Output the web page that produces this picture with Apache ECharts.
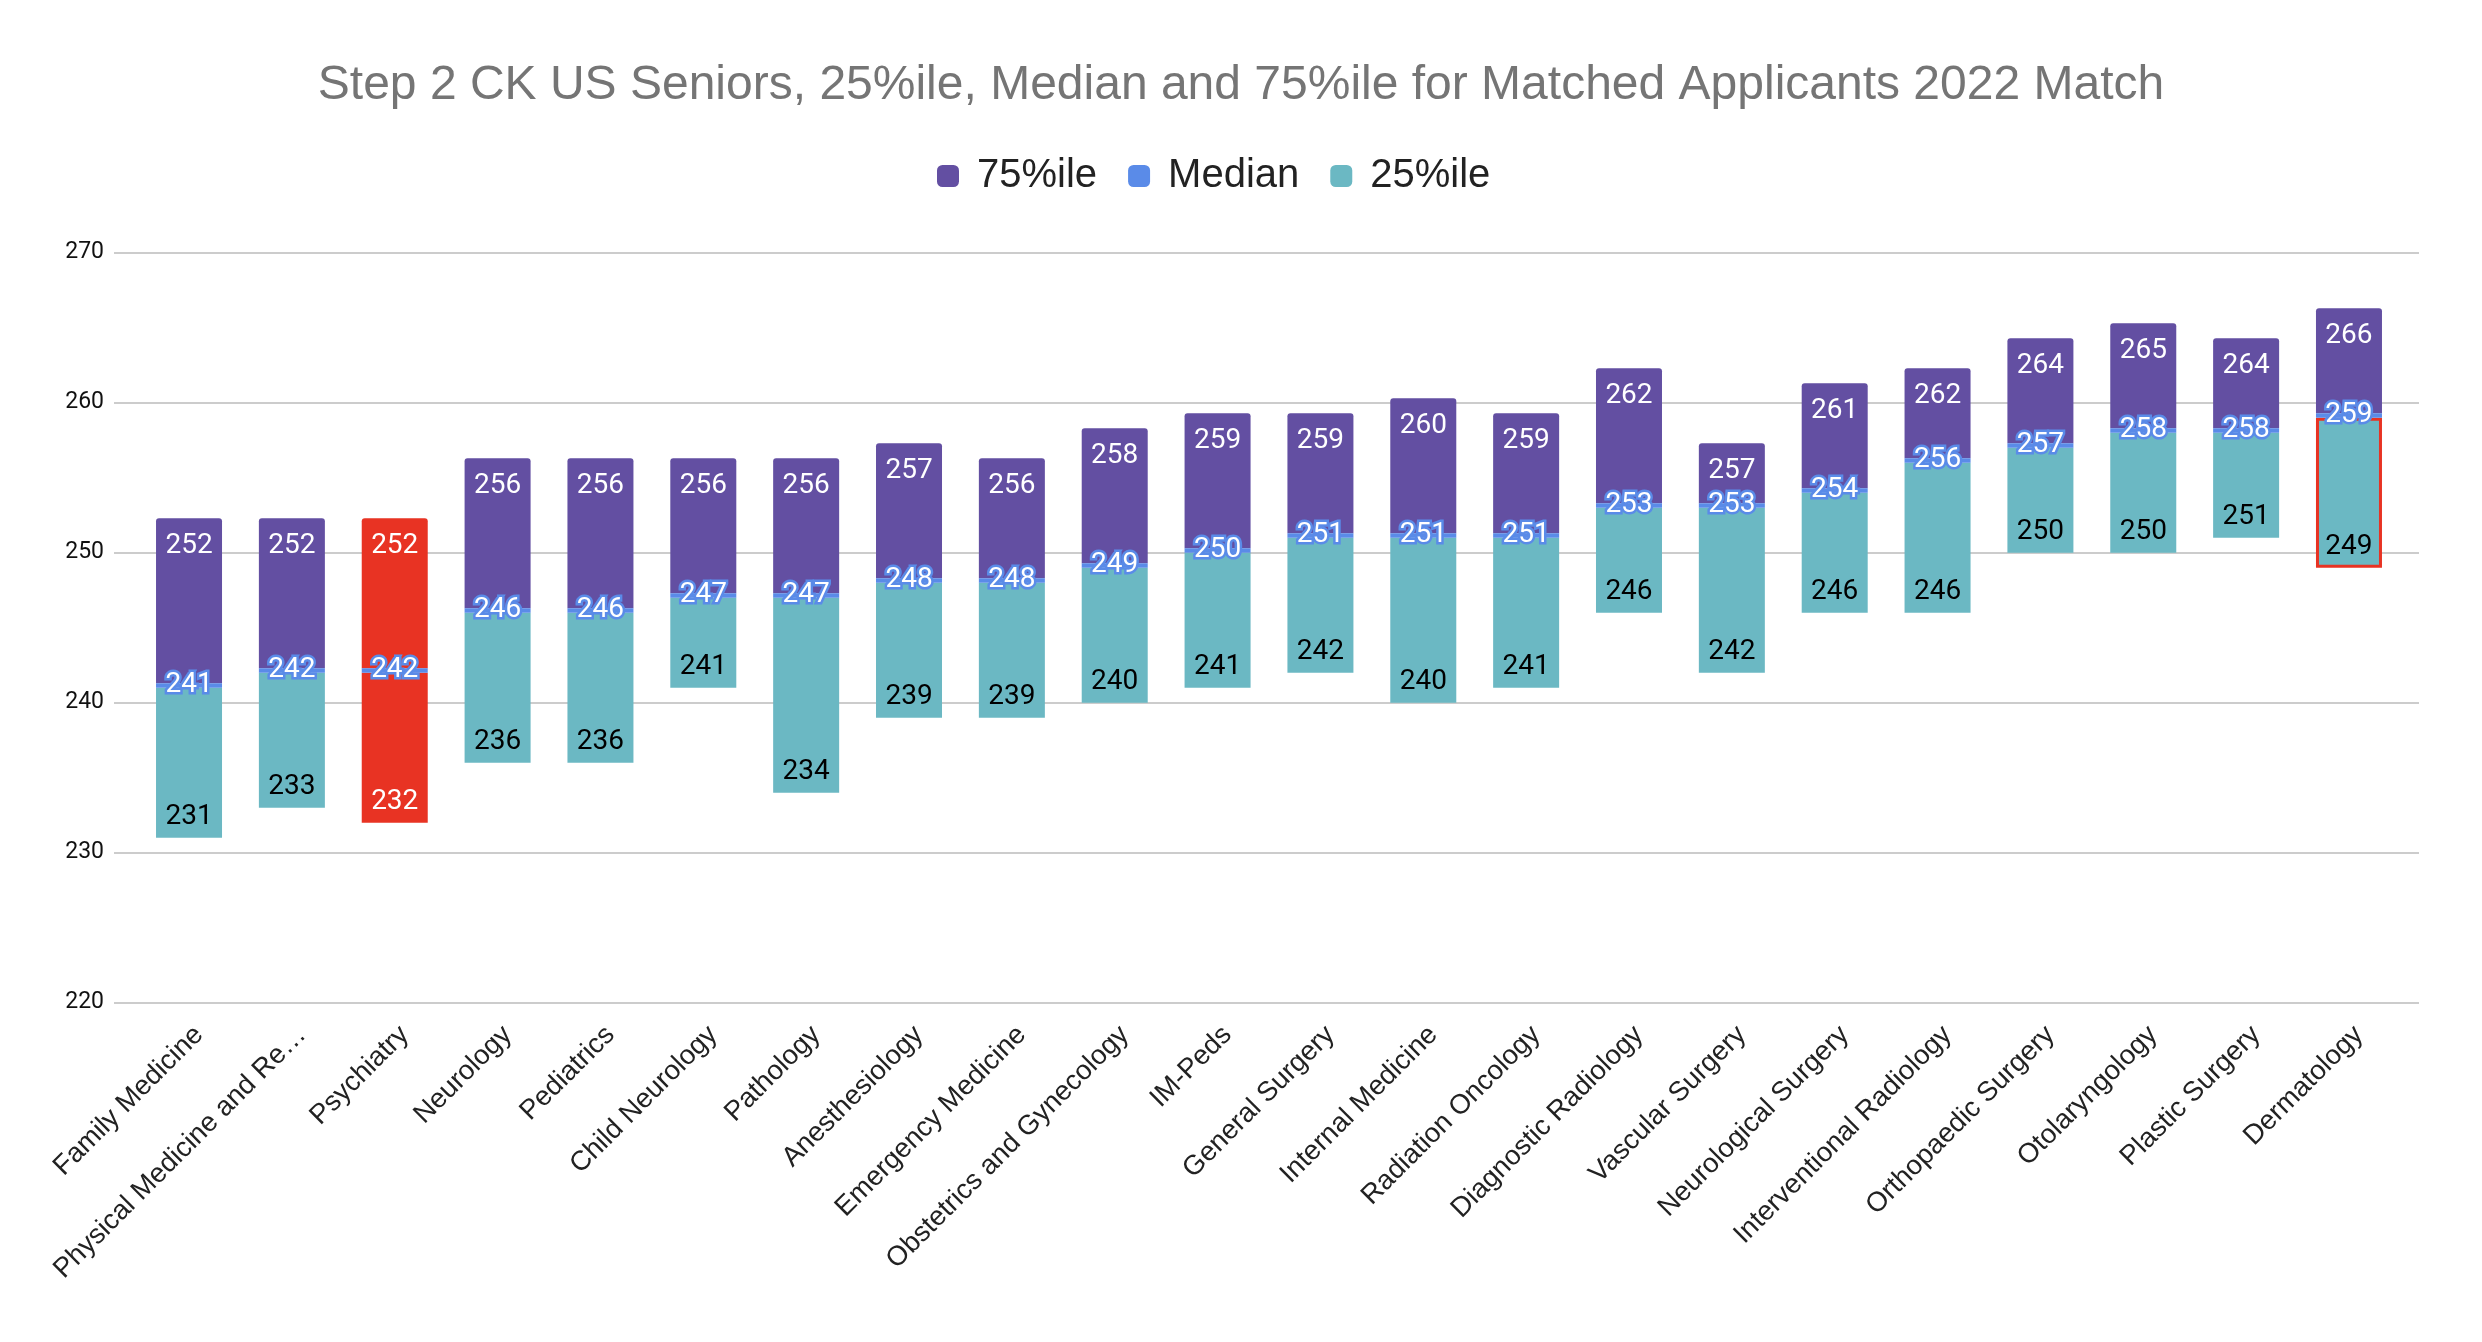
<!DOCTYPE html>
<html>
<head>
<meta charset="utf-8">
<script src="https://cdn.jsdelivr.net/npm/echarts@6/dist/echarts.min.js"></script>
<style>
html,body{margin:0;padding:0;background:#fff;}
#chart{width:2482px;height:1342px;}
</style>
</head>
<body>
<div id="chart"></div>
<script>
// ---- data ----
var categories = ["Family Medicine","Physical Medicine and Rehabilitation","Psychiatry","Neurology","Pediatrics","Child Neurology","Pathology","Anesthesiology","Emergency Medicine","Obstetrics and Gynecology","IM-Peds","General Surgery","Internal Medicine","Radiation Oncology","Diagnostic Radiology","Vascular Surgery","Neurological Surgery","Interventional Radiology","Orthopaedic Surgery","Otolaryngology","Plastic Surgery","Dermatology"];
var p25 =    [231,233,232,236,236,241,234,239,239,240,241,242,240,241,246,242,246,246,250,250,251,249];
var median = [241,242,242,246,246,247,247,248,248,249,250,251,251,251,253,253,254,256,257,258,258,259];
var p75 =    [252,252,252,256,256,256,256,257,256,258,259,259,260,259,262,257,261,262,264,265,264,266];
var yTicks = [220,230,240,250,260,270];
var highlightFill = "Psychiatry";     // whole bar drawn red
var highlightOutline = "Dermatology"; // 25%ile box outlined red

// ---- styles ----
var PURPLE = "#634fa2", BLUE = "#5a8be8", TEAL = "#6bb8c3", RED = "#e83323";
var MEDIAN_THICK = 0.3;
var LABEL_FONT = "Roboto";

var chart = echarts.init(document.getElementById('chart'), null, {renderer:'canvas'});

var tealData = categories.map(function(c,i){
  var d = {value: median[i]-p25[i]};
  if (c === highlightFill) { d.itemStyle = {color: RED}; d.label = {color:'#ffffff'}; }
  if (c === highlightOutline) d.itemStyle = {color: TEAL, borderColor: RED, borderWidth: 3};
  return d;
});
var purpleData = categories.map(function(c,i){
  var d = {value: p75[i]-median[i]};
  if (c === highlightFill) d.itemStyle = {color: RED, borderRadius:[3,3,0,0]};
  return d;
});
var medData = categories.map(function(){ return MEDIAN_THICK; });

var option = {
  backgroundColor: '#ffffff',
  animation: false,
  title: {
    text: 'Step 2 CK US Seniors, 25%ile, Median and 75%ile for Matched Applicants 2022 Match',
    left: 'center', top: 62, padding: 0,
    textStyle: {color:'#757575', fontSize: 48, fontWeight:'normal', fontFamily:'Liberation Sans'}
  },
  legend: {
    left: 937, top: 156, padding: 0,
    itemWidth: 22, itemHeight: 22, itemGap: 31,
    icon: 'roundRect',
    data: ['75%ile','Median','25%ile'],
    textStyle: {color:'#222222', fontSize: 40, fontFamily:'Liberation Sans', padding:[0,0,0,13]}
  },
  grid: [
    {left:114, right:63, top:252.7, bottom:339.3},
    {left:137.6, right:81.6, top:252.7, bottom:339.3}
  ],
  xAxis: [
    {type:'category', gridIndex:0, data:categories, show:false},
    {type:'category', gridIndex:1, data:categories,
     axisLine:{show:false}, axisTick:{show:false},
     axisLabel:{rotate:45, interval:0, margin:18, verticalAlign:'top', color:'#222222', fontSize:27.5, fontFamily:'Liberation Sans',
       formatter:function(v){ return v.length > 25 ? v.slice(0,24) + '\u2026' : v; }}}
  ],
  yAxis: [
    {type:'value', gridIndex:0, min:yTicks[0], max:yTicks[yTicks.length-1], interval:10,
     axisLine:{show:false}, axisTick:{show:false},
     splitLine:{lineStyle:{color:'#cccccc', width:2}},
     axisLabel:{margin:10, color:'#111111', fontSize:23, fontFamily:'Roboto'}},
    {type:'value', gridIndex:1, min:yTicks[0], max:yTicks[yTicks.length-1], interval:10, show:false,
     splitLine:{show:false}}
  ],
  series: [
    {name:'base', type:'bar', xAxisIndex:1, yAxisIndex:1, stack:'a', barWidth:66, silent:true,
     itemStyle:{color:'rgba(0,0,0,0)'}, data:p25.slice(), z:1},
    {name:'25%ile', type:'bar', xAxisIndex:1, yAxisIndex:1, stack:'a', barWidth:66, silent:true,
     itemStyle:{color:TEAL}, data:tealData, z:2,
     label:{show:true, position:'insideBottom', distance:7, color:'#000000', fontSize:28, fontFamily:LABEL_FONT,
       formatter:function(p){ return p25[p.dataIndex]; }}},
    {name:'Median', type:'bar', xAxisIndex:1, yAxisIndex:1, stack:'a', barWidth:66, silent:true,
     itemStyle:{color:BLUE}, data:medData, z:4,
     label:{show:true, position:'inside', color:'#ffffff', fontSize:28, fontFamily:LABEL_FONT,
       textBorderColor:BLUE, textBorderWidth:5,
       formatter:function(p){ return median[p.dataIndex]; }}},
    {name:'75%ile', type:'bar', xAxisIndex:1, yAxisIndex:1, stack:'a', barWidth:66, silent:true,
     itemStyle:{color:PURPLE, borderRadius:[3,3,0,0]}, data:purpleData, z:3,
     label:{show:true, position:'insideTop', distance:14, color:'#ffffff', fontSize:28, fontFamily:LABEL_FONT,
       formatter:function(p){ return p75[p.dataIndex]; }}}
  ]
};
chart.setOption(option);
</script>
</body>
</html>
